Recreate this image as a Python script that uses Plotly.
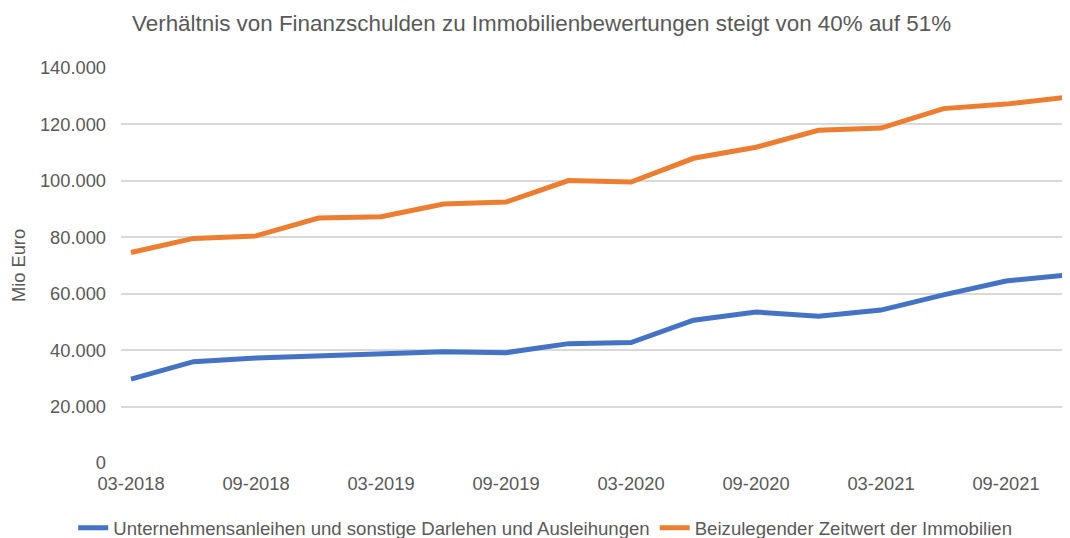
import plotly.graph_objects as go

quarters = ["03-2018", "06-2018", "09-2018", "12-2018",
            "03-2019", "06-2019", "09-2019", "12-2019",
            "03-2020", "06-2020", "09-2020", "12-2020",
            "03-2021", "06-2021", "09-2021", "12-2021"]
debt = [29700, 35900, 37200, 38000, 38800, 39400, 39100, 42300,
        42700, 50600, 53500, 52000, 54200, 59600, 64500, 66700]
property_value = [74600, 79600, 80500, 86800, 87300, 91800, 92500, 100100,
                  99600, 108000, 111900, 117900, 118700, 125600, 127200, 129700]
tick_labels = ["03-2018", "09-2018", "03-2019", "09-2019",
               "03-2020", "09-2020", "03-2021", "09-2021"]
y_ticks = [0, 20000, 40000, 60000, 80000, 100000, 120000, 140000]
y_ticktext = ["0", "20.000", "40.000", "60.000", "80.000", "100.000", "120.000", "140.000"]

name_debt = "Unternehmensanleihen und sonstige Darlehen und Ausleihungen"
name_prop = "Beizulegender Zeitwert der Immobilien"

fig = go.Figure()
fig.add_trace(go.Scatter(x=quarters, y=debt, mode="lines", name=name_debt,
                         line=dict(color="#4472C4", width=5)))
fig.add_trace(go.Scatter(x=quarters, y=property_value, mode="lines", name=name_prop,
                         line=dict(color="#ED7D31", width=5)))

gray = "#595959"
fs = 18.3
# page body has an 8px margin, so the figure is sized to fill the rest of the window
fig.update_layout(
    width=1062, height=530,
    margin=dict(l=113, r=0, t=60, b=75, autoexpand=False),
    paper_bgcolor="white", plot_bgcolor="white",
    font=dict(family="Liberation Sans, Arial, sans-serif", size=fs, color=gray),
    title=dict(text="Verhältnis von Finanzschulden zu Immobilienbewertungen steigt von 40% auf 51%",
               x=0.5024, xanchor="center", xref="container", y=0.972, yanchor="middle",
               font=dict(size=22.4, color=gray)),
    showlegend=True,
    legend=dict(orientation="h", x=0.447, xanchor="center", y=-0.165, yanchor="middle",
                font=dict(size=18.6, color=gray), bgcolor="rgba(0,0,0,0)",
                tracegroupgap=0),
    xaxis=dict(type="category", range=[-0.16, 15.024], tickmode="array",
               tickvals=tick_labels, ticktext=tick_labels, showgrid=False,
               showline=False, zeroline=False, ticks="", automargin=False,
               ticklabelstandoff=8, tickfont=dict(size=fs, color=gray)),
    yaxis=dict(range=[0, 140000], tickmode="array", tickvals=y_ticks, ticktext=y_ticktext,
               showgrid=True, gridcolor="#D9D9D9", gridwidth=1.5, zeroline=False,
               showline=False, ticks="", ticklabelstandoff=14, automargin=False,
               tickfont=dict(size=fs, color=gray),
               title=dict(text="Mio Euro", font=dict(size=fs, color=gray), standoff=20)),
)

fig.write_html("out.html")
